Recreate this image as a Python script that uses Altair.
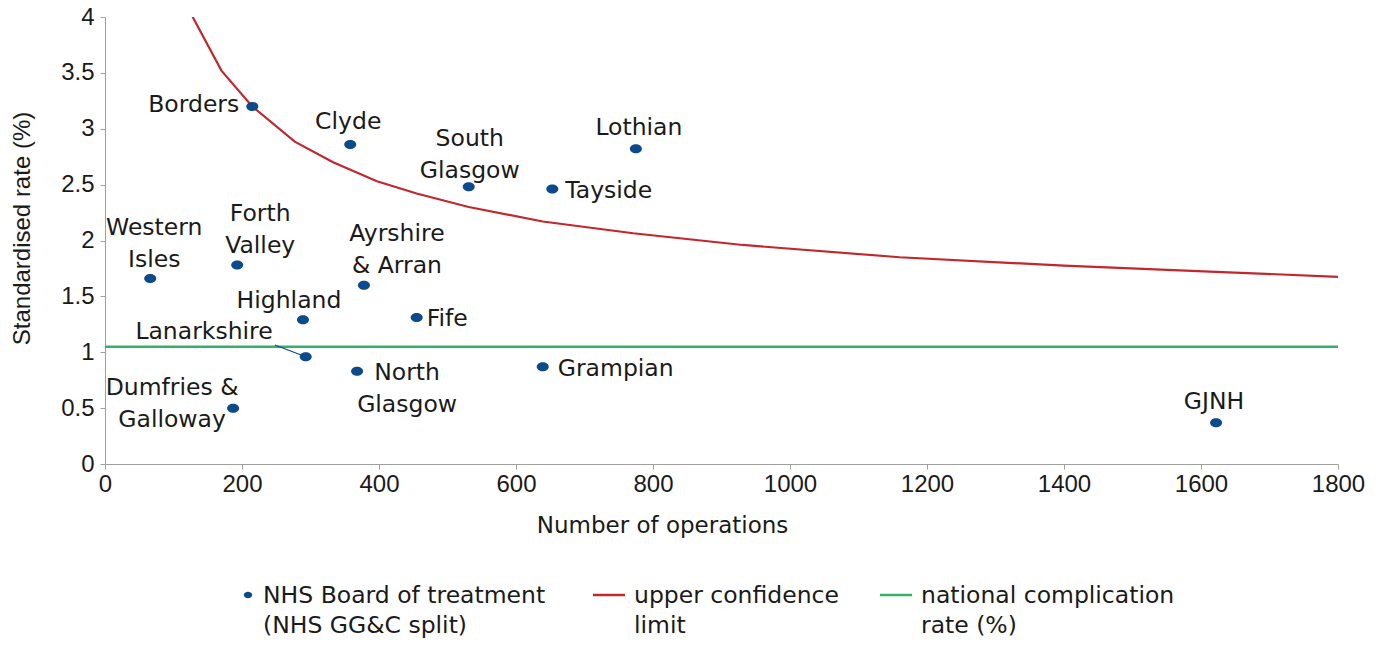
import altair as alt
import pandas as pd

# ---------------- data ----------------
boards = ["Borders", "Clyde", "South Glasgow", "Lothian", "Tayside",
          "Western Isles", "Forth Valley", "Ayrshire & Arran", "Highland",
          "Fife", "Lanarkshire", "North Glasgow", "Grampian",
          "Dumfries & Galloway", "GJNH"]
labels = ["Borders", "Clyde", "South\nGlasgow", "Lothian", "Tayside",
          "Western\nIsles", "Forth\nValley", "Ayrshire\n& Arran", "Highland",
          "Fife", "Lanarkshire", "North\nGlasgow", "Grampian",
          "Dumfries &\nGalloway", "GJNH"]
operations = [215, 358, 531, 775, 653, 66, 193, 378, 289, 455, 293, 368, 639, 187, 1622]
rates = [3.20, 2.86, 2.48, 2.82, 2.46, 1.66, 1.78, 1.60, 1.29, 1.31, 0.96, 0.83, 0.87, 0.50, 0.37]

ucl_n = [128, 170, 215, 277, 333, 397, 455, 531, 639, 771, 931, 1160, 1400, 1622, 1800]
ucl_rate = [4.00, 3.52, 3.20, 2.885, 2.70, 2.53, 2.42, 2.30, 2.17, 2.065, 1.96, 1.85, 1.775, 1.72, 1.675]

national_rate = 1.05

x_ticks = [0, 200, 400, 600, 800, 1000, 1200, 1400, 1600, 1800]
y_ticks = [0, 0.5, 1, 1.5, 2, 2.5, 3, 3.5, 4]

legend_texts = ["NHS Board of treatment\n(NHS GG&C split)",
                "upper confidence\nlimit",
                "national complication\nrate (%)"]

# ---------------- layout / style ----------------
W, H = 1233, 447
WORD_FONT = "DejaVu Sans"
NUM_FONT = "Liberation Sans"
FS = 23.5
TXT = "#1a1a1a"
BLUE = "#0d4a8c"
RED = "#c1272d"
GREEN = "#33b06a"
AXIS_GREY = "#a0a0a0"
ELLIPSE = "M-1,0 A1,0.75 0 1,0 1,0 A1,0.75 0 1,0 -1,0 Z"

# align, dx, dy (pixel offsets from the point, dy to first baseline)
label_layout = {
    "Borders": ("right", -13, 6),
    "Clyde": ("center", -2, -15),
    "South Glasgow": ("center", 1, -41),
    "Lothian": ("center", 3, -14),
    "Tayside": ("left", 13, 9),
    "Western Isles": ("center", 4, -43),
    "Forth Valley": ("center", 23, -44),
    "Ayrshire & Arran": ("center", 33, -44),
    "Highland": ("center", -14, -12),
    "Fife": ("left", 10, 8),
    "Lanarkshire": ("right", -33, -18),
    "North Glasgow": ("center", 50, 9),
    "Grampian": ("left", 15, 9),
    "Dumfries & Galloway": ("center", -61, -13),
    "GJNH": ("center", -2, -14),
}

pts = pd.DataFrame({"board": boards, "label": labels,
                    "operations": operations, "rate": rates})
ucl = pd.DataFrame({"operations": ucl_n, "rate": ucl_rate})
nat = pd.DataFrame({"rate": [national_rate]})
lan_i = boards.index("Lanarkshire")
leader = pd.DataFrame({"x": [248], "y": [1.065],
                       "x2": [operations[lan_i]], "y2": [rates[lan_i]]})
one = pd.DataFrame({"k": [0]})

xs = alt.Scale(domain=[0, 1800], nice=False, zero=False)
ys = alt.Scale(domain=[0, 4], nice=False, zero=False)

x_axis = alt.Axis(values=x_ticks, title="Number of operations", grid=False,
                  format="d",
                  domainColor=AXIS_GREY, tickColor=AXIS_GREY, tickSize=5,
                  labelFont=NUM_FONT, labelFontSize=24, labelColor=TXT,
                  labelPadding=3, titleFont=WORD_FONT, titleFontSize=23,
                  titleFontWeight="normal", titleColor=TXT,
                  titleX=557, titleY=61, titleAlign="center",
                  titleBaseline="middle", labelFlush=False)
y_axis = alt.Axis(values=y_ticks, title="Standardised rate (%)", grid=False,
                  format="~g",
                  domainColor=AXIS_GREY, tickColor=AXIS_GREY, tickSize=5,
                  labelFont=NUM_FONT, labelFontSize=24, labelColor=TXT,
                  labelPadding=6, titleFont=NUM_FONT, titleFontSize=24,
                  titleFontWeight="normal", titleColor=TXT,
                  titleX=-83, titleY=211, titleAlign="center",
                  titleBaseline="middle", titleAngle=270, labelFlush=False)

nat_line = alt.Chart(nat).mark_rule(color=GREEN, strokeWidth=2.5).encode(
    y=alt.Y("rate:Q", scale=ys, axis=y_axis))

ucl_line = alt.Chart(ucl).mark_line(color=RED, strokeWidth=2.2, clip=True).encode(
    x=alt.X("operations:Q", scale=xs, axis=x_axis),
    y=alt.Y("rate:Q", scale=ys))

lead = alt.Chart(leader).mark_rule(color=BLUE, strokeWidth=1.2).encode(
    x=alt.X("x:Q", scale=xs), y=alt.Y("y:Q", scale=ys),
    x2="x2:Q", y2="y2:Q")

dots = alt.Chart(pts).mark_point(shape=ELLIPSE, filled=True, size=144,
                                 color=BLUE, opacity=1).encode(
    x=alt.X("operations:Q", scale=xs), y=alt.Y("rate:Q", scale=ys))

label_layers = []
for b in boards:
    al, dx, dy = label_layout[b]
    label_layers.append(
        alt.Chart(pts).transform_filter(alt.datum.board == b).mark_text(
            align=al, baseline="alphabetic", dx=dx, dy=dy, lineBreak="\n",
            lineHeight=32, font=WORD_FONT, fontSize=FS, color=TXT).encode(
            x=alt.X("operations:Q", scale=xs), y=alt.Y("rate:Q", scale=ys),
            text="label:N"))

# legend (drawn below the plot)
leg_y = 578
leg = [
    alt.Chart(one).mark_point(shape=ELLIPSE, filled=True, size=70, color=BLUE,
                              opacity=1).encode(x=alt.value(143), y=alt.value(leg_y)),
    alt.Chart(one).mark_rule(color=RED, strokeWidth=2.5).encode(
        x=alt.value(488), x2=alt.value(520), y=alt.value(leg_y)),
    alt.Chart(one).mark_rule(color=GREEN, strokeWidth=2.5).encode(
        x=alt.value(775), x2=alt.value(807), y=alt.value(leg_y)),
]
for xpos, t in zip([158, 529, 816], legend_texts):
    leg.append(alt.Chart(one).mark_text(
        align="left", baseline="alphabetic", lineBreak="\n", lineHeight=30,
        font=WORD_FONT, fontSize=FS, color=TXT).encode(
        x=alt.value(xpos), y=alt.value(leg_y + 8), text=alt.value(t)))

chart = alt.layer(nat_line, ucl_line, lead, dots, *label_layers, *leg).properties(
    width=W, height=H,
    autosize=alt.AutoSizeParams(type="none"),
    padding={"left": 97, "top": 9, "right": 30, "bottom": 174},
).configure_view(stroke=None)

chart.save("out.html", embed_options={"renderer": "svg", "actions": False})
